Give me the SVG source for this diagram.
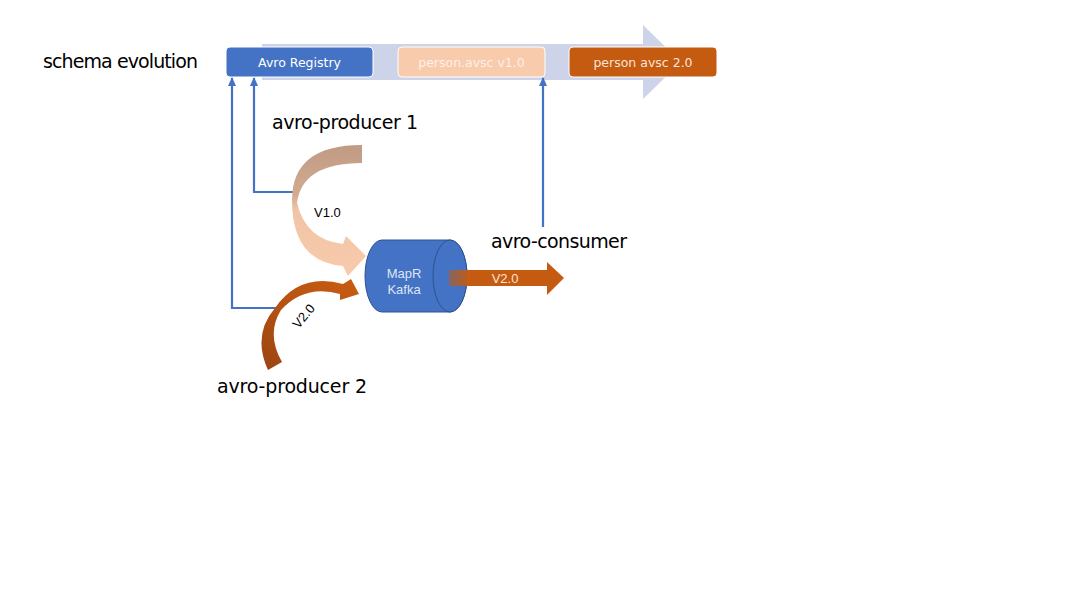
<svg xmlns="http://www.w3.org/2000/svg" width="1067" height="600" viewBox="0 0 1067 600">
<defs>
<style>
.lbl{font-family:"DejaVu Sans","Liberation Sans",sans-serif;font-size:19px;fill:#000}
.btx{font-family:"DejaVu Sans","Liberation Sans",sans-serif;font-size:12.5px}
.sm{font-family:"Liberation Sans",Arial,sans-serif;font-size:13px}
.conn{fill:none;stroke:#4472C4;stroke-width:2.2}
</style>
<marker id="ah" markerWidth="9" markerHeight="8" refX="8" refY="4" orient="auto" markerUnits="userSpaceOnUse" viewBox="0 0 9 8">
<path d="M0,0 L9,4 L0,8 Z" fill="#4472C4"/>
</marker>
<linearGradient id="g1" x1="0" y1="145" x2="0" y2="276" gradientUnits="userSpaceOnUse">
<stop offset="0" stop-color="#C09A83"/>
<stop offset="0.38" stop-color="#D2AB91"/>
<stop offset="0.5" stop-color="#F2C4A6"/>
<stop offset="1" stop-color="#F8CBAD"/>
</linearGradient>
<linearGradient id="g2" x1="270" y1="370" x2="355" y2="280" gradientUnits="userSpaceOnUse">
<stop offset="0" stop-color="#9C4611"/>
<stop offset="0.5" stop-color="#B85412"/>
<stop offset="1" stop-color="#C75B12"/>
</linearGradient>
<linearGradient id="g3" x1="448" y1="0" x2="470" y2="0" gradientUnits="userSpaceOnUse">
<stop offset="0" stop-color="#A0603A" stop-opacity="0.7"/>
<stop offset="1" stop-color="#C55A11"/>
</linearGradient>
</defs>
<rect width="1067" height="600" fill="#fff"/>

<g id="timeline">
<path d="M262,44 L643,44 L643,25 L681,62 L643,99 L643,80 L262,80 Z" fill="#CDD4E9"/>
</g>

<g id="title"><text class="lbl" x="43" y="68" textLength="155">schema evolution</text></g>

<g id="avro-registry">
<rect x="226" y="47" width="147" height="30" rx="4" fill="#4472C4" stroke="#fff" stroke-width="1"/>
<text class="btx" x="299.5" y="67" text-anchor="middle" fill="#fff">Avro Registry</text>
</g>
<g id="person-v1">
<rect x="398" y="47" width="147" height="30" rx="4" fill="#F8CBAD" stroke="#fff" stroke-width="1"/>
<text class="btx" x="471.5" y="67" text-anchor="middle" fill="#FDF0E7">person.avsc v1.0</text>
</g>
<g id="person-v2">
<rect x="569" y="47" width="148" height="30" rx="4" fill="#C55A11" stroke="#fff" stroke-width="1"/>
<text class="btx" x="643" y="67" text-anchor="middle" fill="#FBE5D6">person avsc 2.0</text>
</g>

<g id="connectors">
<polyline class="conn" points="276,314 276,308 232,308 232,78" marker-end="url(#ah)"/>
<polyline class="conn" points="295,192 254,192 254,78" marker-end="url(#ah)"/>
<polyline class="conn" points="543,227 543,78" marker-end="url(#ah)"/>
</g>

<g id="producer1">
<text class="lbl" x="272" y="129" textLength="146">avro-producer 1</text>
<path d="M362,145 Q292,145 292,200 Q292,262 343,266 L348,276 L366,256 L346,236 L343,244 Q306,240 297,203 Q302,163 362,163 Z" fill="url(#g1)"/>
<text class="sm" x="314" y="217">V1.0</text>
</g>

<g id="producer2">
<path d="M268,370 Q252,335 275,308 Q300,272 343,284 L351,279 L359,294 L340,300 L340,294 Q305,284 281,310 Q266,334 282,362 Z" fill="url(#g2)"/>
<text class="sm" x="0" y="0" transform="translate(307,319) rotate(-50)" text-anchor="middle">V2.0</text>
<text class="lbl" x="217" y="393" textLength="150">avro-producer 2</text>
</g>

<g id="kafka">
<path d="M382,240 L450,240 A17,36 0 0 1 450,312 L382,312 A17,36 0 0 1 382,240 Z" fill="#4472C4" stroke="#2F528F" stroke-width="1"/>
<ellipse cx="450" cy="276" rx="17" ry="36" fill="#4472C4" stroke="#2F528F" stroke-width="1"/>
<text class="sm" x="404" y="278" text-anchor="middle" fill="#DCE6F5">MapR</text>
<text class="sm" x="404" y="294" text-anchor="middle" fill="#DCE6F5">Kafka</text>
</g>

<g id="consumer">
<path d="M449,270 L547,270 L547,262 L564,278 L547,295 L547,286 L449,286 Z" fill="url(#g3)"/>
<text class="sm" x="505" y="283" text-anchor="middle" fill="#FBE5D6">V2.0</text>
<text class="lbl" x="491" y="248" textLength="136">avro-consumer</text>
</g>
</svg>
